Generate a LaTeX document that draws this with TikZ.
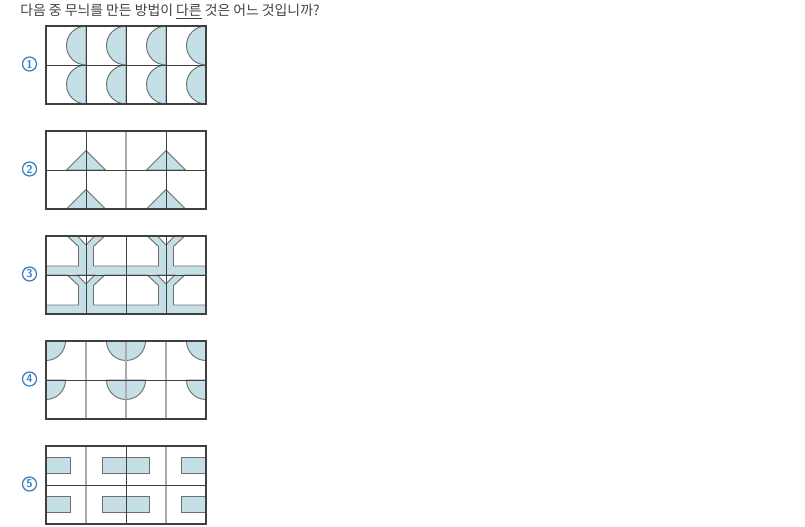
\documentclass[tikz,border=0pt]{standalone}
\usepackage{fontspec}
\newfontfamily\kr{Noto Sans CJK KR}
\definecolor{pale}{HTML}{C5DFE6}
\definecolor{edge}{HTML}{6E6E6E}
\definecolor{dark}{HTML}{404040}
\definecolor{soft}{HTML}{ABABAB}
\definecolor{numblue}{HTML}{3A7FC4}
\begin{document}
\begin{tikzpicture}[x=0.75pt,y=-0.75pt,
	num/.style={circle,draw=numblue,text=numblue,line width=0.95pt,inner sep=0pt,minimum size=10.5pt,font=\sffamily\bfseries\fontsize{8.5}{8.5}\selectfont},
	piece/.style={fill=pale,draw=edge,line width=0.7pt},
	hole/.style={fill=white,draw=edge,line width=0.7pt},
	thick line/.style={draw=dark,line width=0.65pt},
	thin line/.style={draw=soft,line width=0.9pt},
	frame/.style={draw=dark,line width=1pt}]

		\useasboundingbox (0,0) rectangle (805,527);

		\node [anchor=base west,inner sep=0pt,text=dark,font=\kr\fontsize{10.4}{12}\selectfont] (title) at (20,15.5) {다음 중 무늬를 만든 방법이 \underline{다른} 것은 어느 것입니까?};

		\node [num] (1) at (29.5,64) {1};
		\node [num] (2) at (29.5,169) {2};
		\node [num] (3) at (29.5,274) {3};
		\node [num] (4) at (29.5,379) {4};
		\node [num] (5) at (29.5,484) {5};

		% 1: half discs
		\draw [piece] (86,65) arc[start angle=90,end angle=270,radius=19.5] -- cycle;
		\draw [piece] (126,65) arc[start angle=90,end angle=270,radius=19.5] -- cycle;
		\draw [piece] (166,65) arc[start angle=90,end angle=270,radius=19.5] -- cycle;
		\draw [piece] (206,65) arc[start angle=90,end angle=270,radius=19.5] -- cycle;
		\draw [piece] (86,104) arc[start angle=90,end angle=270,radius=19.5] -- cycle;
		\draw [piece] (126,104) arc[start angle=90,end angle=270,radius=19.5] -- cycle;
		\draw [piece] (166,104) arc[start angle=90,end angle=270,radius=19.5] -- cycle;
		\draw [piece] (206,104) arc[start angle=90,end angle=270,radius=19.5] -- cycle;
		\draw [thick line] (86,26) -- (86,104) (126,26) -- (126,104) (166,26) -- (166,104) (46,65) -- (206,65);
		\draw [frame] (46,26) rectangle (206,104);

		% 2: triangles
		\draw [piece] (66.5,170) -- (86,150.5) -- (105.5,170) -- cycle;
		\draw [piece] (146.5,170) -- (166,150.5) -- (185.5,170) -- cycle;
		\draw [piece] (66.5,209) -- (86,189.5) -- (105.5,209) -- cycle;
		\draw [piece] (146.5,209) -- (166,189.5) -- (185.5,209) -- cycle;
		\draw [thin line] (126,131) -- (126,209);
		\draw [thick line] (86,131) -- (86,209) (166,131) -- (166,209) (46,170) -- (206,170);
		\draw [frame] (46,131) rectangle (206,209);

		% 3: Y shapes
		\fill [pale] (46,236) rectangle (206,314);
		\draw [hole] (46,266) -- (46,236) -- (67.3,236) -- (78.5,246.5) -- (78.5,266) -- cycle;
		\draw [hole] (93.5,266) -- (93.5,246.5) -- (104.7,236) -- (147.3,236) -- (158.5,246.5) -- (158.5,266) -- cycle;
		\draw [hole] (173.5,266) -- (173.5,246.5) -- (184.7,236) -- (206,236) -- (206,266) -- cycle;
		\draw [hole] (77.3,236) -- (86,245) -- (94.7,236) -- cycle;
		\draw [hole] (157.3,236) -- (166,245) -- (174.7,236) -- cycle;
		\draw [hole] (46,305) -- (46,275) -- (67.3,275) -- (78.5,285.5) -- (78.5,305) -- cycle;
		\draw [hole] (93.5,305) -- (93.5,285.5) -- (104.7,275) -- (147.3,275) -- (158.5,285.5) -- (158.5,305) -- cycle;
		\draw [hole] (173.5,305) -- (173.5,285.5) -- (184.7,275) -- (206,275) -- (206,305) -- cycle;
		\draw [hole] (77.3,275) -- (86,284) -- (94.7,275) -- cycle;
		\draw [hole] (157.3,275) -- (166,284) -- (174.7,275) -- cycle;
		\draw [thick line] (86,236) -- (86,314) (126,236) -- (126,314) (166,236) -- (166,314) (46,275) -- (206,275);
		\draw [frame] (46,236) rectangle (206,314);

		% 4: quarter and half discs
		\draw [piece] (46,341) -- (65.5,341) arc[start angle=0,end angle=90,radius=19.5] -- cycle;
		\draw [piece] (106.5,341) arc[start angle=180,end angle=0,radius=19.5] -- cycle;
		\draw [piece] (206,341) -- (186.5,341) arc[start angle=180,end angle=90,radius=19.5] -- cycle;
		\draw [piece] (46,380) -- (65.5,380) arc[start angle=0,end angle=90,radius=19.5] -- cycle;
		\draw [piece] (106.5,380) arc[start angle=180,end angle=0,radius=19.5] -- cycle;
		\draw [piece] (206,380) -- (186.5,380) arc[start angle=180,end angle=90,radius=19.5] -- cycle;
		\draw [thin line] (86,341) -- (86,419) (126,341) -- (126,419) (166,341) -- (166,419);
		\draw [thick line] (46,380) -- (206,380);
		\draw [frame] (46,341) rectangle (206,419);

		% 5: bars
		\draw [piece] (46,457.5) rectangle (70,473.5);
		\draw [piece] (102.5,457.5) rectangle (149.5,473.5);
		\draw [piece] (181,457.5) rectangle (206,473.5);
		\draw [piece] (46,496.5) rectangle (70,512.5);
		\draw [piece] (102.5,496.5) rectangle (149.5,512.5);
		\draw [piece] (181,496.5) rectangle (206,512.5);
		\draw [thin line] (86,446) -- (86,524) (166,446) -- (166,524);
		\draw [thick line] (126,446) -- (126,524) (46,485) -- (206,485);
		\draw [frame] (46,446) rectangle (206,524);
\end{tikzpicture}
\end{document}
